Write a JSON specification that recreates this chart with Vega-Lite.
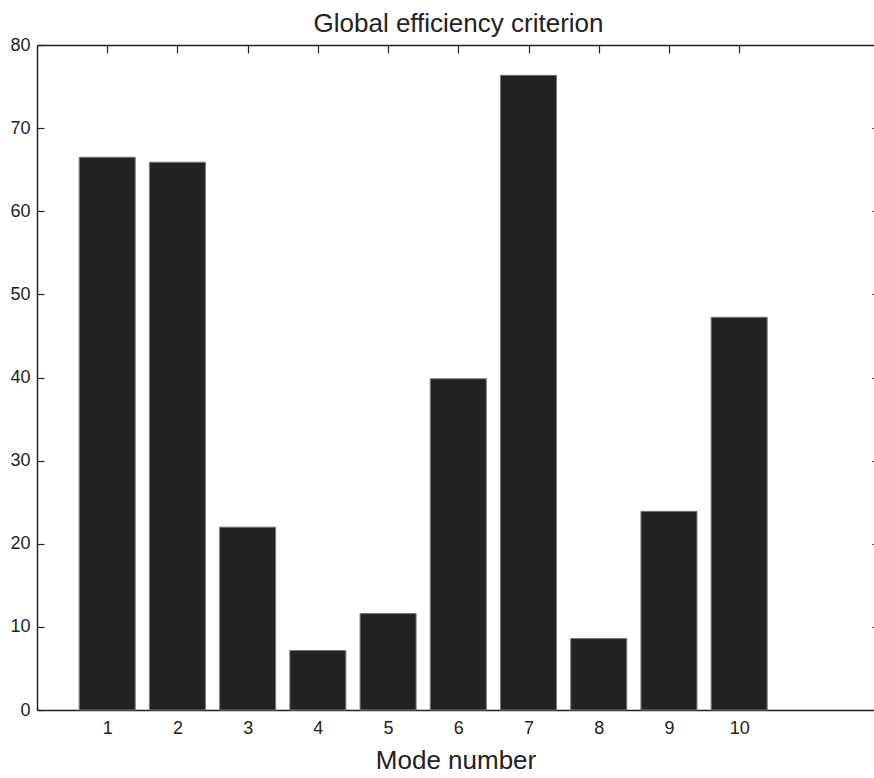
{
  "$schema": "https://vega.github.io/schema/vega-lite/v6.json",
  "width": 837,
  "height": 665,
  "autosize": {"type": "none"},
  "padding": {"left": 37, "top": 45, "right": 0, "bottom": 68},
  "background": "white",
  "config": {
    "view": {"stroke": null},
    "font": "Liberation Sans",
    "axis": {"grid": false, "domainColor": "#222222", "domainWidth": 1.5, "tickColor": "#222222", "tickWidth": 1.2, "labelColor": "#222222", "labelFont": "Liberation Sans", "labelFontSize": 18, "titleFont": "Liberation Sans", "titleColor": "#222222", "titleFontWeight": "normal"}
  },
  "title": {"text": "Global efficiency criterion", "fontSize": 26, "font": "Liberation Sans", "fontWeight": "normal", "color": "#222222", "offset": -1, "dx": 3},
  "data": {"values": [
    {"mode": 1, "value": 66.5},
    {"mode": 2, "value": 65.9},
    {"mode": 3, "value": 22.0},
    {"mode": 4, "value": 7.15},
    {"mode": 5, "value": 11.6},
    {"mode": 6, "value": 39.85},
    {"mode": 7, "value": 76.35},
    {"mode": 8, "value": 8.6},
    {"mode": 9, "value": 23.9},
    {"mode": 10, "value": 47.25}
  ]},
  "layer": [
    {
      "mark": {"type": "bar", "size": 56, "fill": "#222220", "stroke": "#777777", "strokeWidth": 1},
      "encoding": {
        "x": {"field": "mode", "type": "quantitative", "scale": {"domain": [0, 11.92], "nice": false, "zero": false, "padding": 0},
          "axis": {"orient": "bottom", "values": [1,2,3,4,5,6,7,8,9,10], "tickSize": -7, "labelPadding": 16, "title": "Mode number", "titleFontSize": 26, "titlePadding": 10, "labelFlush": false}},
        "y": {"field": "value", "type": "quantitative", "scale": {"domain": [0, 80], "nice": false},
          "axis": {"orient": "left", "values": [0,10,20,30,40,50,60,70,80], "tickSize": -7, "labelPadding": 14, "title": null, "labelFlush": false}}
      }
    },
    {
      "mark": {"type": "bar", "size": 56, "opacity": 0},
      "encoding": {
        "x": {"field": "mode", "type": "quantitative",
          "axis": {"orient": "top", "values": [1,2,3,4,5,6,7,8,9,10], "tickSize": -8, "labels": false, "title": null}},
        "y": {"field": "value", "type": "quantitative",
          "axis": {"orient": "right", "values": [0,10,20,30,40,50,60,70,80], "tickSize": -2, "labels": false, "title": null, "domain": false}}
      }
    }
  ],
  "resolve": {"axis": {"x": "independent", "y": "independent"}}
}
